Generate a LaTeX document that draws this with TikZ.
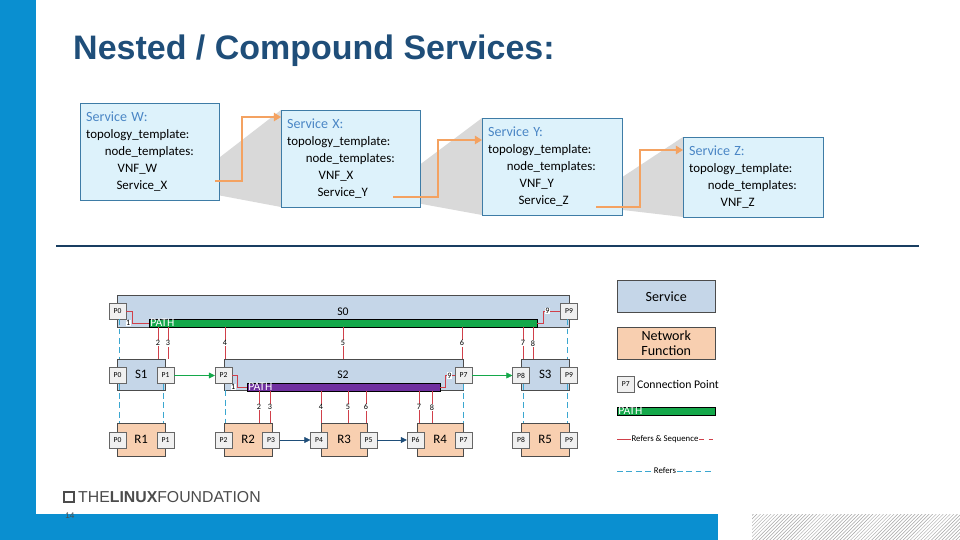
\documentclass[tikz,border=0pt]{standalone}
\usepackage{fontspec}
\setmainfont{Carlito}
\newfontfamily\titlefont{Liberation Sans}
\usetikzlibrary{positioning, arrows.meta, patterns}
\definecolor{lfblue}{HTML}{0A8FD0}
\definecolor{titleblue}{HTML}{1F4E79}
\definecolor{boxfill}{HTML}{DDF2FB}
\definecolor{boxline}{HTML}{3E7CA6}
\definecolor{svcblue}{HTML}{4A86C5}
\definecolor{svcfill}{HTML}{C5D6E8}
\definecolor{nffill}{HTML}{F8CFB0}
\definecolor{pathgreen}{HTML}{14A84A}
\definecolor{pathpurple}{HTML}{7030A0}
\definecolor{refred}{HTML}{D0404A}
\definecolor{refcyan}{HTML}{3BA7D0}
\definecolor{wedge}{HTML}{D9D9D9}
\definecolor{arrorange}{HTML}{F4A261}
\def\pxu{0.03cm}
\tikzset{
  tmpl/.style    = {rectangle, draw=boxline, fill=boxfill, anchor=north west, align=left, inner xsep=5pt, inner ysep=4pt, font=\fontsize{11}{14.5}\selectfont},
  svc/.style     = {rectangle, draw=black!70, fill=svcfill, inner sep=0pt},
  nf/.style      = {rectangle, draw=black!70, fill=nffill, inner sep=0pt},
  port/.style    = {rectangle, draw=black!60, fill=black!6, minimum width=17*\pxu, minimum height=16*\pxu, inner sep=0pt, font=\fontsize{6.5}{6.5}\selectfont},
  pathbar/.style = {rectangle, draw=black, inner sep=0pt, minimum height=8*\pxu},
  pathtxt/.style = {anchor=west, text=white, font=\fontsize{10}{10}\selectfont, inner sep=1pt},
  refseq/.style  = {draw=refred, thin},
  refs/.style    = {draw=refcyan, thick, dash pattern=on 5pt off 3pt},
  seqlbl/.style  = {fill=white, inner sep=0.5pt, font=\fontsize{7}{7}\selectfont},
  nest/.style    = {draw=arrorange, line width=2pt, -{Triangle[length=6pt,width=7pt]}},
}
\newcommand{\tname}[1]{{\fontsize{12}{14.5}\selectfont\textcolor{svcblue}{#1}}}
\begin{document}
\begin{tikzpicture}[x=0.03cm, y=-0.03cm]
\useasboundingbox (0,0) rectangle (960,540);
\fill[white] (0,0) rectangle (960,540);
% frame of the slide
\fill[lfblue] (0,0) rectangle (36,540);
\fill[lfblue] (36,514) rectangle (718,540);
\fill[pattern=north east lines, pattern color=black!35] (752,514) rectangle (960,540);
\node[anchor=west, font=\titlefont\bfseries\fontsize{29}{32}\selectfont, text=titleblue, inner sep=0pt] (title) at (73,51) {Nested / Compound Services:};

% shadows behind the templates
\fill[wedge] (180,188) -- (281,110) -- (281,207) -- cycle;
\fill[wedge] (378,196) -- (482,118) -- (482,215) -- cycle;
\fill[wedge] (580,205) -- (683,137) -- (683,217) -- cycle;

% service templates
\node[tmpl, text width=127*\pxu, minimum height=97*\pxu] (tw) at (80,103) {\tname{Service W:}\\topology\_template:\\\hspace*{16pt}node\_templates:\\\hspace*{27pt}VNF\_W\\\hspace*{26pt}Service\_X};
\node[tmpl, text width=127*\pxu, minimum height=97*\pxu] (tx) at (281,110) {\tname{Service X:}\\topology\_template:\\\hspace*{16pt}node\_templates:\\\hspace*{27pt}VNF\_X\\\hspace*{26pt}Service\_Y};
\node[tmpl, text width=128*\pxu, minimum height=97*\pxu] (ty) at (482,118) {\tname{Service Y:}\\topology\_template:\\\hspace*{16pt}node\_templates:\\\hspace*{27pt}VNF\_Y\\\hspace*{26pt}Service\_Z};
\node[tmpl, text width=128*\pxu, minimum height=80*\pxu] (tz) at (683,137) {\tname{Service Z:}\\topology\_template:\\\hspace*{16pt}node\_templates:\\\hspace*{27pt}VNF\_Z};

\draw[nest] (215,181) -- (242,181) |- (tx.west |- 0,117);
\draw[nest] (393,197) -- (438,197) |- (ty.west |- 0,140);
\draw[nest] (596,207) -- (640,207) |- (tz.west |- 0,150);

\draw[titleblue!80!black, line width=2.5pt] (56,246) -- (919,246);

% services
\node[svc, minimum width=452*\pxu, minimum height=32*\pxu, anchor=north west] (s0) at (117,295) {};
\node[font=\fontsize{10}{10}\selectfont] (s0lbl) at (343,312) {S0};
\node[svc, minimum width=48*\pxu, minimum height=31*\pxu, anchor=north west, font=\fontsize{11}{11}\selectfont] (s1) at (117,359) {S1};
\node[svc, minimum width=239*\pxu, minimum height=31*\pxu, anchor=north west] (s2) at (224,359) {};
\node[font=\fontsize{10}{10}\selectfont] (s2lbl) at (343,375) {S2};
\node[svc, minimum width=48*\pxu, minimum height=31*\pxu, anchor=north west, font=\fontsize{11}{11}\selectfont] (s3) at (521,359) {S3};

% paths
\node[pathbar, fill=pathgreen, minimum width=388*\pxu, anchor=north west] (path0) at (149,319) {};
\node[pathtxt] at (path0.west) {PATH};
\node[pathbar, fill=pathpurple, minimum width=193*\pxu, anchor=north west] (path2) at (247,383) {};
\node[pathtxt] at (path2.west) {PATH};

% network functions
\node[nf, minimum width=48*\pxu, minimum height=33*\pxu, anchor=north west, font=\fontsize{11}{11}\selectfont] (r1) at (117,423) {R1};
\node[nf, minimum width=48*\pxu, minimum height=33*\pxu, anchor=north west, font=\fontsize{11}{11}\selectfont] (r2) at (224,423) {R2};
\node[nf, minimum width=46*\pxu, minimum height=33*\pxu, anchor=north west, font=\fontsize{11}{11}\selectfont] (r3) at (321,423) {R3};
\node[nf, minimum width=46*\pxu, minimum height=33*\pxu, anchor=north west, font=\fontsize{11}{11}\selectfont] (r4) at (417,423) {R4};
\node[nf, minimum width=48*\pxu, minimum height=33*\pxu, anchor=north west, font=\fontsize{11}{11}\selectfont] (r5) at (521,423) {R5};

% connection points
\node[port] (s0p0) at (117.5,311) {P0};
\node[port] (s0p9) at (569,311) {P9};
\node[port] (s1p0) at (117.5,375.5) {P0};
\node[port] (s1p1) at (165.5,375.5) {P1};
\node[port] (s2p2) at (223.5,375.5) {P2};
\node[port] (s2p7) at (463.5,375.5) {P7};
\node[port] (s3p8) at (521,375.5) {P8};
\node[port] (s3p9) at (569,375.5) {P9};
\node[port] (r1p0) at (117.5,440) {P0};
\node[port] (r1p1) at (165.5,440) {P1};
\node[port] (r2p2) at (223.5,440) {P2};
\node[port] (r2p3) at (271,440) {P3};
\node[port] (r3p4) at (319,440) {P4};
\node[port] (r3p5) at (368.5,440) {P5};
\node[port] (r4p6) at (415.5,440) {P6};
\node[port] (r4p7) at (463.5,440) {P7};
\node[port] (r5p8) at (521,440) {P8};
\node[port] (r5p9) at (569,440) {P9};

% forwarding between points
\draw[pathgreen, -{Triangle[length=5pt,width=5pt]}] (s1p1) -- (s2p2);
\draw[pathgreen, -{Triangle[length=5pt,width=5pt]}] (s2p7) -- (s3p8);
\draw[titleblue, -{Triangle[length=5pt,width=5pt]}] (r2p3) -- (r3p4);
\draw[titleblue, -{Triangle[length=5pt,width=5pt]}] (r3p5) -- (r4p6);

% refers
\draw[refs] (s0p0.south -| 119,0) -- (s1.north -| 119,0);
\draw[refs] (s0p9.south -| 567,0) -- (s3.north -| 567,0);
\draw[refs] (s1p0.south -| 119,0) -- (r1.north -| 119,0);
\draw[refs] (s1p1.south -| 163,0) -- (r1.north -| 163,0);
\draw[refs] (s2.south -| 225,0) -- (r2.north -| 225,0);
\draw[refs] (s2p7.south -| 463,0) -- (r4.north -| 463,0);
\draw[refs] (s3p8.south -| 523,0) -- (r5.north -| 523,0);
\draw[refs] (s3p9.south -| 567,0) -- (r5.north -| 567,0);

% refers & sequence, outer path
\draw[refseq] (s0p0.east) -- ++(6,0) |- (path0.west) node[seqlbl, pos=0.5, left=1pt] {1};
\draw[refseq] (path0.east) -- ++(6,0) |- (s0p9.west) node[seqlbl, pos=0.5, right=1pt] {9};
\foreach \xx/\nn/\tgt in {158/2/s1, 168/3/s1, 225/4/s2, 343/5/s2, 462/6/s2, 523/7/s3, 533/8/s3}
  \draw[refseq] (path0.south -| \xx,0) -- (\tgt.north -| \xx,0) node[seqlbl, midway] {\nn};
% refers & sequence, inner path
\draw[refseq] (s2p2.east) -- ++(5,0) |- (path2.west) node[seqlbl, pos=0.5, left=1pt] {1};
\draw[refseq] (path2.east) -- ++(5,0) |- (s2p7.west) node[seqlbl, pos=0.5, right=1pt] {9};
\foreach \xx/\nn/\tgt in {259/2/r2, 270/3/r2, 321/4/r3, 348/5/r3, 366/6/r3, 419/7/r4, 432/8/r4}
  \draw[refseq] (path2.south -| \xx,0) -- (\tgt.north -| \xx,0) node[seqlbl, midway] {\nn};

% legend
\node[svc, minimum width=98*\pxu, minimum height=32*\pxu, anchor=north west, font=\fontsize{12}{12}\selectfont] (lgsvc) at (617,280) {Service};
\node[nf, minimum width=98*\pxu, minimum height=32*\pxu, anchor=north west, align=center, font=\fontsize{12}{13}\selectfont] (lgnf) at (617,327) {Network\\Function};
\node[port, anchor=west] (lgcp) at (617,384) {P7};
\node[right=1pt of lgcp, font=\fontsize{10}{10}\selectfont, inner sep=1pt] (lgcptxt) {Connection Point};
\node[pathbar, fill=pathgreen, minimum width=98*\pxu, anchor=north west] (lgpath) at (617,407) {};
\node[pathtxt] at (lgpath.west) {PATH};
\node[seqlbl, font=\fontsize{7.5}{7.5}\selectfont] (lgseq) at (665,439) {Refers \& Sequence};
\coordinate (lgseqa) at (617,439);
\coordinate (lgseqb) at (714,439);
\draw[refseq] (lgseqa) -- (lgseq.west);
\draw[refseq, dash pattern=on 4pt off 4pt] (lgseq.east) -- (lgseqb);
\node[seqlbl, font=\fontsize{7.5}{7.5}\selectfont] (lgref) at (665,471) {Refers};
\coordinate (lgrefa) at (617,471);
\coordinate (lgrefb) at (714,471);
\draw[refs] (lgrefa) -- (lgref.west);
\draw[refs] (lgref.east) -- (lgrefb);

% footer
\node[draw=black!70, line width=1.5pt, minimum size=10*\pxu, inner sep=0pt] (logo) at (69,497) {};
\node[anchor=west, text=black!70, font=\titlefont\fontsize{13.5}{14}\selectfont, inner sep=0pt] (lf) at (78,497) {THE\textbf{LINUX}FOUNDATION};
\node[font=\titlefont\fontsize{7}{7}\selectfont, text=black!70] (pgno) at (70,516) {14};
\end{tikzpicture}
\end{document}
